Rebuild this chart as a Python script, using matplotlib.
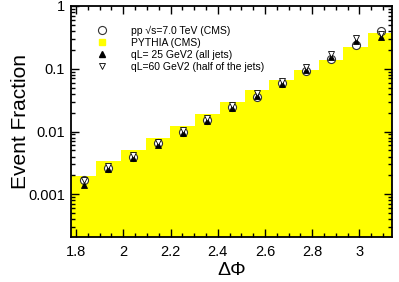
import numpy as np
import matplotlib
matplotlib.use('Agg')
import matplotlib.pyplot as plt
from matplotlib.ticker import MultipleLocator, FixedLocator, FixedFormatter
from matplotlib.lines import Line2D

plt.rcParams['font.family'] = ['Liberation Sans', 'DejaVu Sans']

# bin edges in delta phi (pi/30 wide bins from 17pi/30 to pi)
bin_edges = [1.7802, 1.8850, 1.9897, 2.0944, 2.1991, 2.3038, 2.4086,
             2.5133, 2.6180, 2.7227, 2.8274, 2.9322, 3.0369, 3.1416]

# PYTHIA (CMS) histogram
pythia = [0.00196, 0.00341, 0.0051, 0.00785, 0.0123, 0.0191, 0.0298,
          0.0462, 0.0668, 0.0964, 0.139, 0.224, 0.375]

# CMS data, pp sqrt(s)=7 TeV
cms_data = [0.00169, 0.0026, 0.0040, 0.0065, 0.0098, 0.0154, 0.0245,
            0.036, 0.059, 0.0906, 0.143, 0.241, 0.394]

# qL = 25 GeV2 (all jets)
ql25 = [0.00141, 0.0025, 0.00374, 0.00603, 0.0095, 0.0148, 0.0239,
        0.037, 0.0576, 0.096, 0.153, 0.28, 0.318]

# qL = 60 GeV2 (half of the jets)
ql60 = [0.00171, 0.0028, 0.00425, 0.0069, 0.0106, 0.0165, 0.0266,
        0.0415, 0.0645, 0.108, 0.174, 0.312, 0.361]

labels = ['pp \u221as=7.0 TeV (CMS)', 'PYTHIA (CMS)',
          'qL= 25 GeV2 (all jets)', 'qL=60 GeV2 (half of the jets)']

edges = np.array(bin_edges)
centers = 0.5 * (edges[:-1] + edges[1:])

fig = plt.figure(figsize=(3.99, 2.82), dpi=100)
ax = fig.add_axes([0.177, 0.16, 0.805, 0.819])

ax.stairs(pythia, edges, fill=True, color='#ffff00', baseline=1e-6, zorder=1)
ax.plot(centers, cms_data, 'o', ms=5.8, mfc='white', mec='#333333', mew=0.8, zorder=3)
ax.plot(centers, ql25, '^', ms=4.2, mfc='black', mec='black', mew=0.6, zorder=4)
ax.plot(centers, ql60, 'v', ms=4.2, mfc='white', mec='black', mew=0.6, zorder=5)

ax.set_yscale('log')
ax.set_xlim(1.777, 3.137)
ax.set_ylim(2.1e-4, 1)

ax.xaxis.set_major_locator(MultipleLocator(0.2))
ax.xaxis.set_minor_locator(MultipleLocator(0.05))
ax.set_xticks([1.8, 2.0, 2.2, 2.4, 2.6, 2.8, 3.0])
ax.set_xticklabels(['1.8', '2', '2.2', '2.4', '2.6', '2.8', '3'])
ax.yaxis.set_major_locator(FixedLocator([0.001, 0.01, 0.1, 1]))
ax.yaxis.set_major_formatter(FixedFormatter(['0.001', '0.01', '0.1', '1']))

ax.tick_params(which='both', direction='in', top=True, right=True,
               labelsize=10.5, width=1.0)
ax.tick_params(which='major', length=6)
ax.tick_params(which='minor', length=3)
ax.tick_params(axis='y', pad=4)
ax.tick_params(axis='x', pad=6)
for s in ax.spines.values():
    s.set_linewidth(1.3)

ax.set_ylabel('Event Fraction', fontsize=15)
ax.set_xlabel('\u0394\u03a6', fontsize=14)
ax.yaxis.set_label_coords(-0.125, 0.5)
ax.xaxis.set_label_coords(0.5, -0.11)

handles = [
    Line2D([], [], ls='none', marker='o', ms=5.8, mfc='white', mec='#333333', mew=0.8),
    Line2D([], [], ls='none', marker='s', ms=5, mfc='#ffff00', mec='#ffff00'),
    Line2D([], [], ls='none', marker='^', ms=4.5, mfc='black', mec='black'),
    Line2D([], [], ls='none', marker='v', ms=4.5, mfc='white', mec='black', mew=0.6),
]
ax.legend(handles, labels, loc='upper left', bbox_to_anchor=(0.068, 0.933),
          frameon=False, fontsize=7.5, handlelength=1.0, handletextpad=2.3,
          labelspacing=0.2, borderaxespad=0)

fig.savefig('out.png', dpi=100)
